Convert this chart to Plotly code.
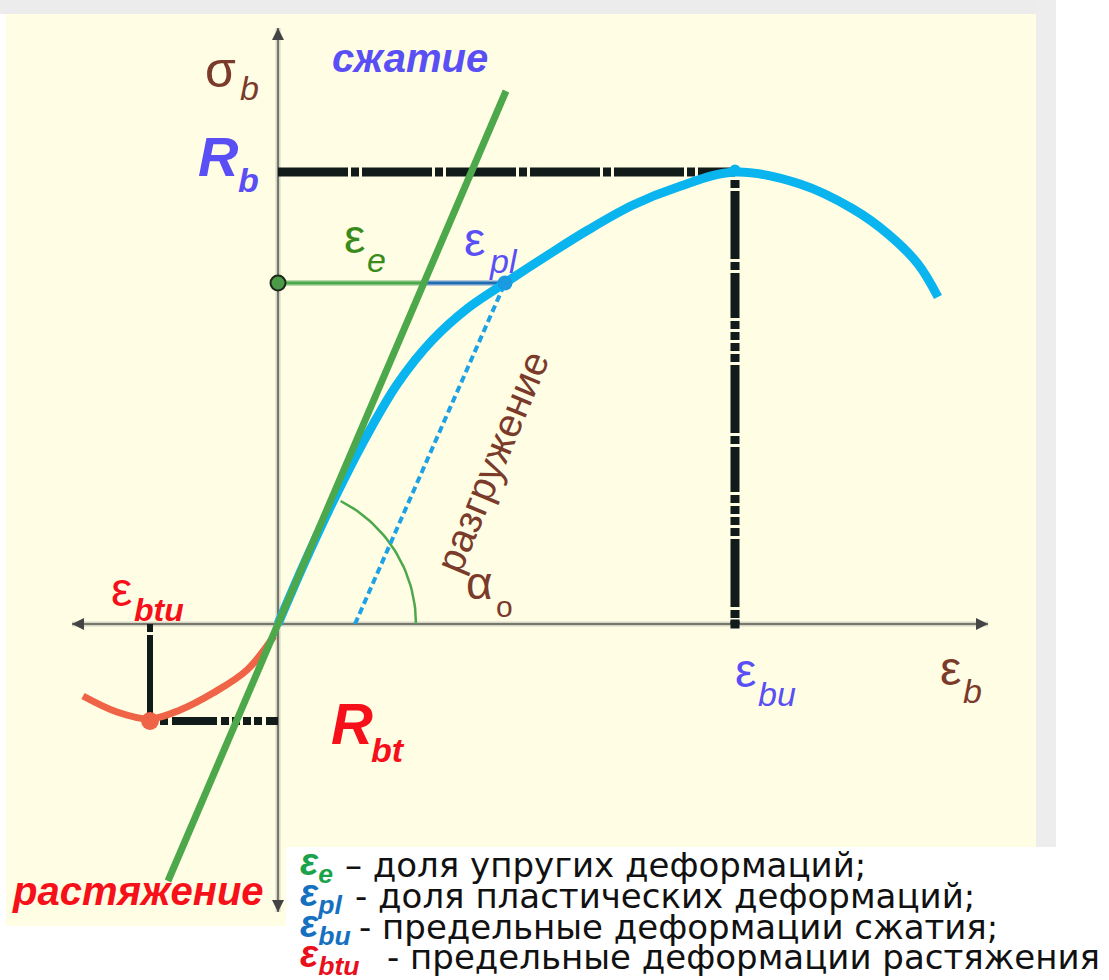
import numpy as np
import plotly.graph_objects as go

W, H = 1109, 980
# data axes: 100 px per unit, origin of the diagram at pixel (278, 624)
X_RANGE = [-2.78, 8.31]
Y_RANGE = [-3.56, 6.24]

# ---------------- data ----------------
axis_x_eps = [-2.06, 7.10]          # horizontal axis extent
axis_y_sig = [5.96, -2.88]          # vertical axis extent

elastic_eps = [-1.10, 2.28]          # elastic (initial modulus) line
elastic_sig = [-2.57, 5.33]

comp_eps = [0.00, 0.26, 0.56, 0.88, 1.20, 1.54, 1.90, 2.27, 2.70, 3.10, 3.55, 4.00, 4.57, 5.22, 5.75, 6.10, 6.40, 6.60]
comp_sig = [0.00, 0.60, 1.245, 1.87, 2.41, 2.835, 3.16, 3.41, 3.69, 3.94, 4.19, 4.37, 4.52, 4.40, 4.15, 3.90, 3.60, 3.27]

tens_eps = [-0.04, -0.31, -0.65, -0.98, -1.28, -1.61, -1.95]
tens_sig = [-0.12, -0.46, -0.69, -0.86, -0.95, -0.88, -0.72]

R_b = 4.52
eps_bu = 4.57
R_bt = -0.97
eps_btu = -1.28
eps_btu_line_left = -1.18
sig_pl = 3.41
eps_e_end = 1.47
eps_pl_end = 2.27
unload_eps = [0.77, 2.27]
unload_sig = [0.00, 3.41]
alpha_radius = 1.38
alpha_deg = 63.0

# ---------------- colours ----------------
GREEN = "#4da84b"
BLUE = "#0ab4ee"
RED = "#ef6446"
BLACK = "#111b19"
BROWN = "#7b3b2b"
VIOLET = "#5a4ff5"
LRED = "#f5101a"
FONT = "Liberation Sans, Arial, sans-serif"
LFONT = "DejaVu Sans, Liberation Sans, sans-serif"

fig = go.Figure()


def line(x, y, color, width, dash="solid", shape="linear"):
    fig.add_trace(go.Scatter(x=x, y=y, mode="lines", hoverinfo="skip", showlegend=False,
                             line=dict(color=color, width=width, dash=dash, shape=shape)))


def dot(x, y, color, size, lc=None, lw=0, symbol="circle"):
    fig.add_trace(go.Scatter(x=[x], y=[y], mode="markers", hoverinfo="skip", showlegend=False,
                             marker=dict(color=color, size=size, symbol=symbol,
                                         line=dict(color=lc or color, width=lw))))


# axes (light halo + dark line)
line(axis_x_eps, [0, 0], "#d6d6c4", 5)
line(axis_x_eps, [0, 0], "#77776c", 2)
line([0, 0], axis_y_sig, "#d6d6c4", 5)
line([0, 0], axis_y_sig, "#77776c", 2)
# arrow heads at the axis ends
dot(axis_x_eps[1], 0, "#444444", 12, symbol="arrow-right")
dot(axis_x_eps[0], 0, "#444444", 12, symbol="arrow-left")
dot(0, axis_y_sig[0], "#444444", 12, symbol="arrow-up")
dot(0, axis_y_sig[1], "#444444", 12, symbol="arrow-down")

# black dash-dot guide lines
line([0, eps_bu], [R_b, R_b], BLACK, 9, dash="70px,3px,8px,3px")
line([eps_bu, eps_bu], [R_b - 0.08, 0], BLACK, 9, dash="8px,3px,68px,3px,8px,3px,45px,3px,8px,3px,8px,3px,8px,3px")
line([eps_btu_line_left, 0], [R_bt, R_bt], BLACK, 8, dash="8px,4px,45px,4px,8px,3px,8px,3px,8px,3px")
line([eps_btu, eps_btu], [0, R_bt], BLACK, 6, dash="8px,3px,200px")

# elastic / plastic parts at sigma level
line([0, eps_e_end], [sig_pl, sig_pl], "#b9d9a8", 6)
line([0, eps_e_end], [sig_pl, sig_pl], GREEN, 3)
line([eps_e_end, eps_pl_end], [sig_pl, sig_pl], "#b8c8d8", 6)
line([eps_e_end, eps_pl_end], [sig_pl, sig_pl], "#1f6cb2", 3)

# angle arc alpha_0
theta = np.radians(np.linspace(0.0, alpha_deg, 40))
line(list(alpha_radius * np.cos(theta)), list(alpha_radius * np.sin(theta)), GREEN, 2.5)

# unloading (dotted)
line(unload_eps, unload_sig, "#1ea2e6", 4, dash="7px,4px")

# tension branch
line(tens_eps, tens_sig, RED, 7, shape="spline")
# compression branch
line(comp_eps, comp_sig, BLUE, 9, shape="spline")
# elastic line
line(elastic_eps, elastic_sig, GREEN, 7)

# points
dot(0, sig_pl, "#4a9a48", 15, lc="#1b2a1b", lw=2)
dot(eps_pl_end, sig_pl, "#1a9ae0", 15)
dot(eps_bu, R_b + 0.02, BLUE, 11)
dot(eps_btu, R_bt, RED, 18)
dot(eps_bu, 0, BLACK, 9, symbol="square")

# ---------------- text helpers (pixel positions) ----------------
ann = []


def txt(s, xp, yp, size, color, bold=False, italic=False, xanchor="center", angle=0, family=FONT):
    if bold:
        s = "<b>" + s + "</b>"
    if italic:
        s = "<i>" + s + "</i>"
    ann.append(dict(text=s, x=xp / W, y=1 - yp / H, xref="paper", yref="paper",
                    xanchor=xanchor, yanchor="middle", showarrow=False, textangle=angle,
                    font=dict(family=family, size=size, color=color)))


# labels
txt("σ", 220, 70, 50, BROWN)
txt("b", 249, 88, 34, BROWN, italic=True)
txt("сжатие", 410, 58, 40, VIOLET, bold=True, italic=True)
txt("R", 218, 156, 56, VIOLET, bold=True, italic=True)
txt("b", 248, 180, 34, VIOLET, bold=True, italic=True)
txt("ε", 354, 236, 48, "#3b8a1c")
txt("e", 376, 260, 34, "#3b8a1c", italic=True)
txt("ε", 474, 239, 48, VIOLET)
txt("pl", 503, 261, 34, VIOLET, italic=True)
txt("разгружение", 492, 462, 40, BROWN, angle=-67.6)
txt("α", 479, 583, 46, BROWN)
txt("o", 504, 606, 30, BROWN)
txt("ε", 121, 589, 48, LRED)
txt("btu", 159, 610, 32, LRED, bold=True, italic=True)
txt("R", 352, 723, 58, LRED, bold=True, italic=True)
txt("bt", 388, 750, 34, LRED, bold=True, italic=True)
txt("ε", 745, 670, 48, VIOLET)
txt("bu", 777, 694, 34, VIOLET, italic=True)
txt("ε", 950, 668, 48, BROWN)
txt("b", 972, 691, 34, BROWN, italic=True)
txt("растяжение", 138, 891, 40, LRED, bold=True, italic=True)

# legend block
leg_rows = [
    ("e", "#1aa34a", "– доля упругих деформаций;", 865, 343),
    ("pl", "#1670c0", "- доля пластических деформаций;", 896, 353),
    ("bu", "#1670c0", "- предельные деформации сжатия;", 927, 357),
    ("btu", "#e8101a", "- предельные деформации растяжения", 957, 385),
]
for sub, col, desc, yp, tx in leg_rows:
    txt("ε<sub>" + sub + "</sub>", 298, yp, 38, col, bold=True, italic=True, xanchor="left")
    txt(desc, tx, yp, 34, "#111111", xanchor="left", family=LFONT)

# ---------------- background shapes ----------------
def rect(x0, y0, x1, y1, color):
    return dict(type="rect", xref="paper", yref="paper", x0=x0 / W, x1=x1 / W,
                y0=1 - y1 / H, y1=1 - y0 / H, fillcolor=color, line=dict(width=0), layer="below")


shapes = [
    rect(0, 0, 1056, 14, "#ececec"),
    rect(1036, 0, 1056, 847, "#ededed"),
    rect(6, 14, 1036, 926, "#fffee5"),
    rect(286, 847, 1109, 980, "#ffffff"),
]

fig.update_layout(
    width=W, height=H, autosize=False,
    margin=dict(l=0, r=0, t=0, b=0),
    paper_bgcolor="#ffffff", plot_bgcolor="rgba(0,0,0,0)",
    xaxis=dict(range=X_RANGE, visible=False, fixedrange=True),
    yaxis=dict(range=Y_RANGE, visible=False, fixedrange=True),
    shapes=shapes, annotations=ann, showlegend=False,
)

fig.write_html("out.html", config={"displayModeBar": False},
               post_script="document.body.style.margin='0px';document.body.style.overflow='hidden';")
